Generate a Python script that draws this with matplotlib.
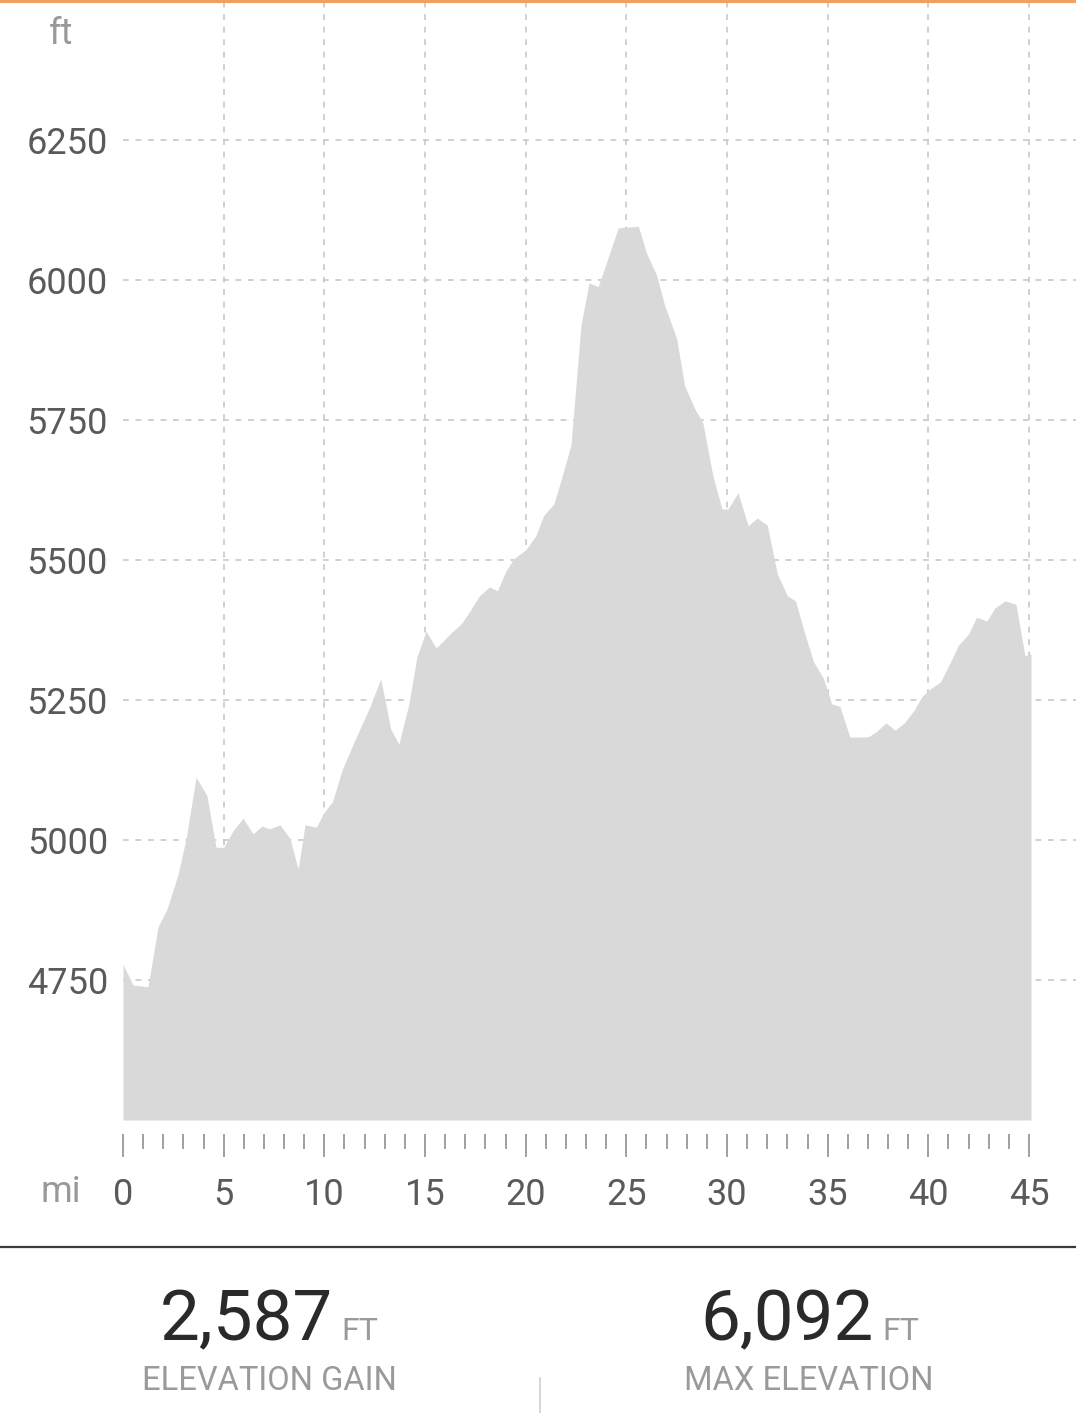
import matplotlib
matplotlib.use("Agg")
import matplotlib.pyplot as plt
from matplotlib.ticker import FixedLocator, NullFormatter
from matplotlib.lines import Line2D

plt.rcParams['font.family'] = ['Roboto', 'DejaVu Sans']

# ---- data ----
distance_mi = [0, 0.5, 1.24, 1.74, 2.19, 2.73, 3.13, 3.63, 4.17, 4.62, 5.0, 5.46, 5.96,
               6.46, 6.9, 7.3, 7.8, 8.3, 8.7, 9.04, 9.6, 10.0, 10.4, 10.9, 11.5, 12.3,
               12.8, 13.3, 13.7, 14.2, 14.6, 15.05, 15.55, 15.95, 16.3, 16.8, 17.2, 17.7,
               18.2, 18.6, 19.0, 19.4, 20.0, 20.5, 20.9, 21.4, 21.8, 22.25, 22.75, 23.15,
               23.6, 24.6, 25.6, 26.0, 26.5, 26.9, 27.5, 27.9, 28.4, 28.8, 29.3, 29.75,
               30.05, 30.55, 31.05, 31.5, 32.0, 32.5, 33.0, 33.4, 33.9, 34.3, 34.8, 35.2,
               35.6, 36.1, 36.6, 37.0, 37.4, 37.9, 38.35, 38.8, 39.3, 39.7, 40.1, 40.6,
               41.1, 41.5, 42.0, 42.4, 42.9, 43.3, 43.8, 44.35, 44.8, 45.1]
elevation_ft = [4778, 4741, 4738, 4845, 4877, 4938, 5002, 5112, 5079, 4987, 4987, 5016, 5039,
                5011, 5025, 5020, 5027, 5002, 4948, 5027, 5023, 5050, 5068, 5127, 5177, 5241,
                5288, 5198, 5171, 5243, 5327, 5373, 5343, 5357, 5370, 5386, 5407, 5436,
                5452, 5445, 5479, 5502, 5518, 5543, 5580, 5600, 5648, 5705, 5920, 5995,
                5988, 6093, 6096, 6048, 6009, 5955, 5895, 5811, 5770, 5745, 5650, 5591,
                5591, 5620, 5561, 5575, 5562, 5475, 5436, 5427, 5364, 5318, 5288, 5243,
                5239, 5184, 5184, 5184, 5193, 5209, 5196, 5209, 5232, 5257, 5270, 5282,
                5318, 5348, 5368, 5398, 5391, 5414, 5427, 5421, 5329, 5332]
y_ticks = [4750, 5000, 5250, 5500, 5750, 6000, 6250]
x_major = [0, 5, 10, 15, 20, 25, 30, 35, 40, 45]
x_minor = list(range(0, 46))
x_grid = [5, 10, 15, 20, 25, 30, 35, 40, 45]
gain_value = "2,587"
max_value = "6,092"
gain_label = "ELEVATION GAIN"
max_label = "MAX ELEVATION"

W, H = 1076, 1413
fig = plt.figure(figsize=(W / 100, H / 100), dpi=100)
fig.patch.set_facecolor('white')

ax = fig.add_axes([123 / W, (H - 1120) / H, (W - 123) / W, 1120 / H])
ax.set_xlim(0, (W - 123) / (906 / 45))
ax.set_ylim(4500, 6500)

ax.fill_between(distance_mi, elevation_ft, 4500, color='#d9d9d9', linewidth=0, zorder=3)

grid_kw = dict(color='#c8c8c8', linewidth=1.2, linestyle=(0, (3.5, 4)), zorder=1)
for yv in y_ticks:
    ax.axhline(yv, **grid_kw)
for xv in x_grid:
    ax.axvline(xv, **grid_kw)

for s in ax.spines.values():
    s.set_visible(False)
ax.spines['bottom'].set_position(('outward', 10))

ax.xaxis.set_major_locator(FixedLocator(x_major))
ax.xaxis.set_minor_locator(FixedLocator(x_minor))
ax.xaxis.set_minor_formatter(NullFormatter())
ax.set_xticklabels([str(v) for v in x_major])
ax.tick_params(axis='x', which='major', direction='out', length=23 * 0.72, width=1.4,
               color='#a0a0a0', labelsize=26, labelcolor='#5a5a5a', pad=20 * 0.72)
ax.tick_params(axis='x', which='minor', direction='out', length=15 * 0.72, width=1.4,
               color='#a0a0a0')

ax.set_yticks(y_ticks)
ax.set_yticklabels([str(v) for v in y_ticks])
ax.tick_params(axis='y', length=0, labelsize=26, labelcolor='#5a5a5a', pad=15 * 0.72)

# unit labels
fig.text(61 / W, 1 - 34 / H, 'ft', ha='center', va='center', fontsize=26, color='#999999')
fig.text(61 / W, 1 - 1192 / H, 'mi', ha='center', va='center', fontsize=26, color='#999999')

# decorative lines
fig.add_artist(Line2D([0, 1], [1 - 1 / H, 1 - 1 / H], color='#f0a060', linewidth=2.2,
                      transform=fig.transFigure))
fig.add_artist(Line2D([0, 1], [1 - 1247 / H, 1 - 1247 / H], color='#3a3a3a', linewidth=1.6,
                      transform=fig.transFigure))
fig.add_artist(Line2D([540 / W, 540 / W], [0, 1 - 1378 / H], color='#d0d0d0', linewidth=1.2,
                      transform=fig.transFigure))

# stats
base_y = 1 - 1340 / H
fig.text(333 / W, base_y, gain_value, ha='right', va='baseline', fontsize=51, color='#2a2a2a')
fig.text(341 / W, base_y, 'FT', ha='left', va='baseline', fontsize=23, color='#9a9a9a')
fig.text(269 / W, 1 - 1390 / H, gain_label, ha='center', va='baseline', fontsize=23.5,
         color='#9a9a9a')
fig.text(874 / W, base_y, max_value, ha='right', va='baseline', fontsize=51, color='#2a2a2a')
fig.text(882 / W, base_y, 'FT', ha='left', va='baseline', fontsize=23, color='#9a9a9a')
fig.text(809 / W, 1 - 1390 / H, max_label, ha='center', va='baseline', fontsize=23.5,
         color='#9a9a9a')

fig.savefig('out.png', dpi=100, facecolor='white')
